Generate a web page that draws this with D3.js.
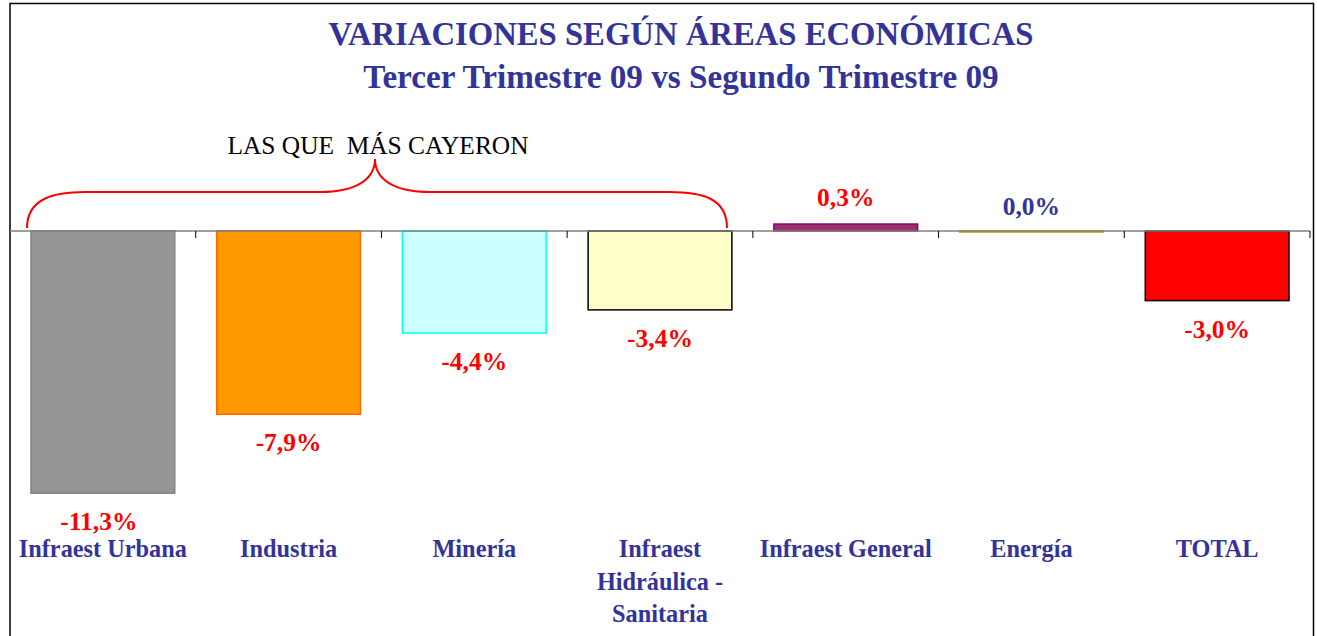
<!DOCTYPE html>
<html><head><meta charset="utf-8">
<script src="https://cdn.jsdelivr.net/npm/d3@7"></script>
<style>body{margin:0;background:#fff}svg{display:block}</style>
</head><body><svg id="c" width="1317" height="636"></svg>
<script>
const categories = [["Infraest Urbana"],["Industria"],["Minería"],["Infraest","Hidráulica -","Sanitaria"],["Infraest General"],["Energía"],["TOTAL"]];
const values = [-11.3, -7.9, -4.4, -3.4, 0.3, 0.0, -3.0];
const valueLabels = ["-11,3%","-7,9%","-4,4%","-3,4%","0,3%","0,0%","-3,0%"];
const fills = ["#969696","#FF9900","#CCFFFF","#FFFFCC","#993366","#FFCC00","#FF0000"];
const strokes = ["#808080","#FF6600","#00FFFF","#000000","#800080","#CC9900","#000000"];
const labelColors = ["#FF0000","#FF0000","#FF0000","#FF0000","#FF0000","#333399","#FF0000"];
const title = ["VARIACIONES SEGÚN ÁREAS ECONÓMICAS","Tercer Trimestre 09 vs Segundo Trimestre 09"];
const braceText = "LAS QUE  MÁS CAYERON";

const svg = d3.select("#c");
const font = "'Liberation Serif','Times New Roman',serif";
// frame
svg.append("path").attr("d","M10,640 V3.5 H1313.5 V640").attr("fill","none").attr("stroke","#000").attr("stroke-width",1.5);

const x = d3.scaleBand().domain(d3.range(categories.length)).range([10,1310]).paddingInner(0.226).paddingOuter(0.113);
const xb = d3.scaleBand().domain(d3.range(categories.length)).range([10,1310]);
const y = d3.scaleLinear().domain([-12,3]).range([509.4,161.4]);

// title
svg.selectAll("text.title").data(title).join("text")
  .attr("x",681).attr("y",(d,i)=>45+i*43).attr("text-anchor","middle")
  .attr("font-family",font).attr("font-weight","bold").attr("font-size",(d,i)=>i==0?32.7:33.2)
  .attr("fill","#333399").text(d=>d);

// bars
svg.selectAll("rect.bar").data(values).join("rect")
  .attr("x",(d,i)=>x(i)).attr("width",x.bandwidth())
  .attr("y",d=>Math.min(y(d),y(0))).attr("height",d=>Math.max(Math.abs(y(d)-y(0)),1))
  .attr("fill",(d,i)=>fills[i]).attr("stroke",(d,i)=>strokes[i]).attr("stroke-width",1.5);

// axis line
svg.append("line").attr("x1",10).attr("x2",1310).attr("y1",y(0)).attr("y2",y(0)).attr("stroke","#808080").attr("stroke-width",1.5);
// ticks
svg.selectAll("line.tick").data(d3.range(1,categories.length+1)).join("line")
  .attr("x1",d=>xb(0)+d*xb.bandwidth()).attr("x2",d=>xb(0)+d*xb.bandwidth())
  .attr("y1",y(0)).attr("y2",y(0)+7).attr("stroke","#000").attr("stroke-width",1);

// value labels
svg.selectAll("text.val").data(values).join("text")
  .attr("x",(d,i)=>x(i)+x.bandwidth()/2 - (i==0?4:0))
  .attr("y",d=>d>=0.05? y(d)-18 : d>=0 ? y(0)-16 : y(d)+37)
  .attr("text-anchor","middle").attr("font-family",font).attr("font-weight","bold").attr("font-size",25.5)
  .attr("fill",(d,i)=>labelColors[i]).text((d,i)=>valueLabels[i]);

// category labels
categories.forEach((lines,i)=>{
  svg.append("text").attr("x",xb(i)+xb.bandwidth()/2).attr("y",557)
    .attr("text-anchor","middle").attr("font-family",font).attr("font-weight","bold").attr("font-size",24.3)
    .attr("fill","#333399")
    .selectAll("tspan").data(lines).join("tspan")
    .attr("x",xb(i)+xb.bandwidth()/2).attr("dy",(d,j)=>j==0?0:32.5).text(d=>d);
});

// brace
const bx0 = 27, bx1 = 727, tipX = 375, by0 = y(0)-3, byh = 192, tipY = 159;
const p = d3.path();
p.moveTo(bx0,by0);
p.bezierCurveTo(bx0,byh+6,55,byh,85,byh);
p.lineTo(tipX-55,byh);
p.bezierCurveTo(tipX-20,byh,tipX,byh-12,tipX,tipY);
p.bezierCurveTo(tipX,byh-12,tipX+20,byh,tipX+55,byh);
p.lineTo(bx1-58,byh);
p.bezierCurveTo(bx1-25,byh,bx1,byh+6,bx1,by0);
svg.append("path").attr("d",p.toString()).attr("fill","none").attr("stroke","#FF0000").attr("stroke-width",2);
svg.append("text").attr("x",378).attr("y",154).attr("text-anchor","middle").attr("xml:space","preserve").style("white-space","pre")
  .attr("font-family",font).attr("font-size",25.4).attr("fill","#000").text(braceText);
</script></body></html>
